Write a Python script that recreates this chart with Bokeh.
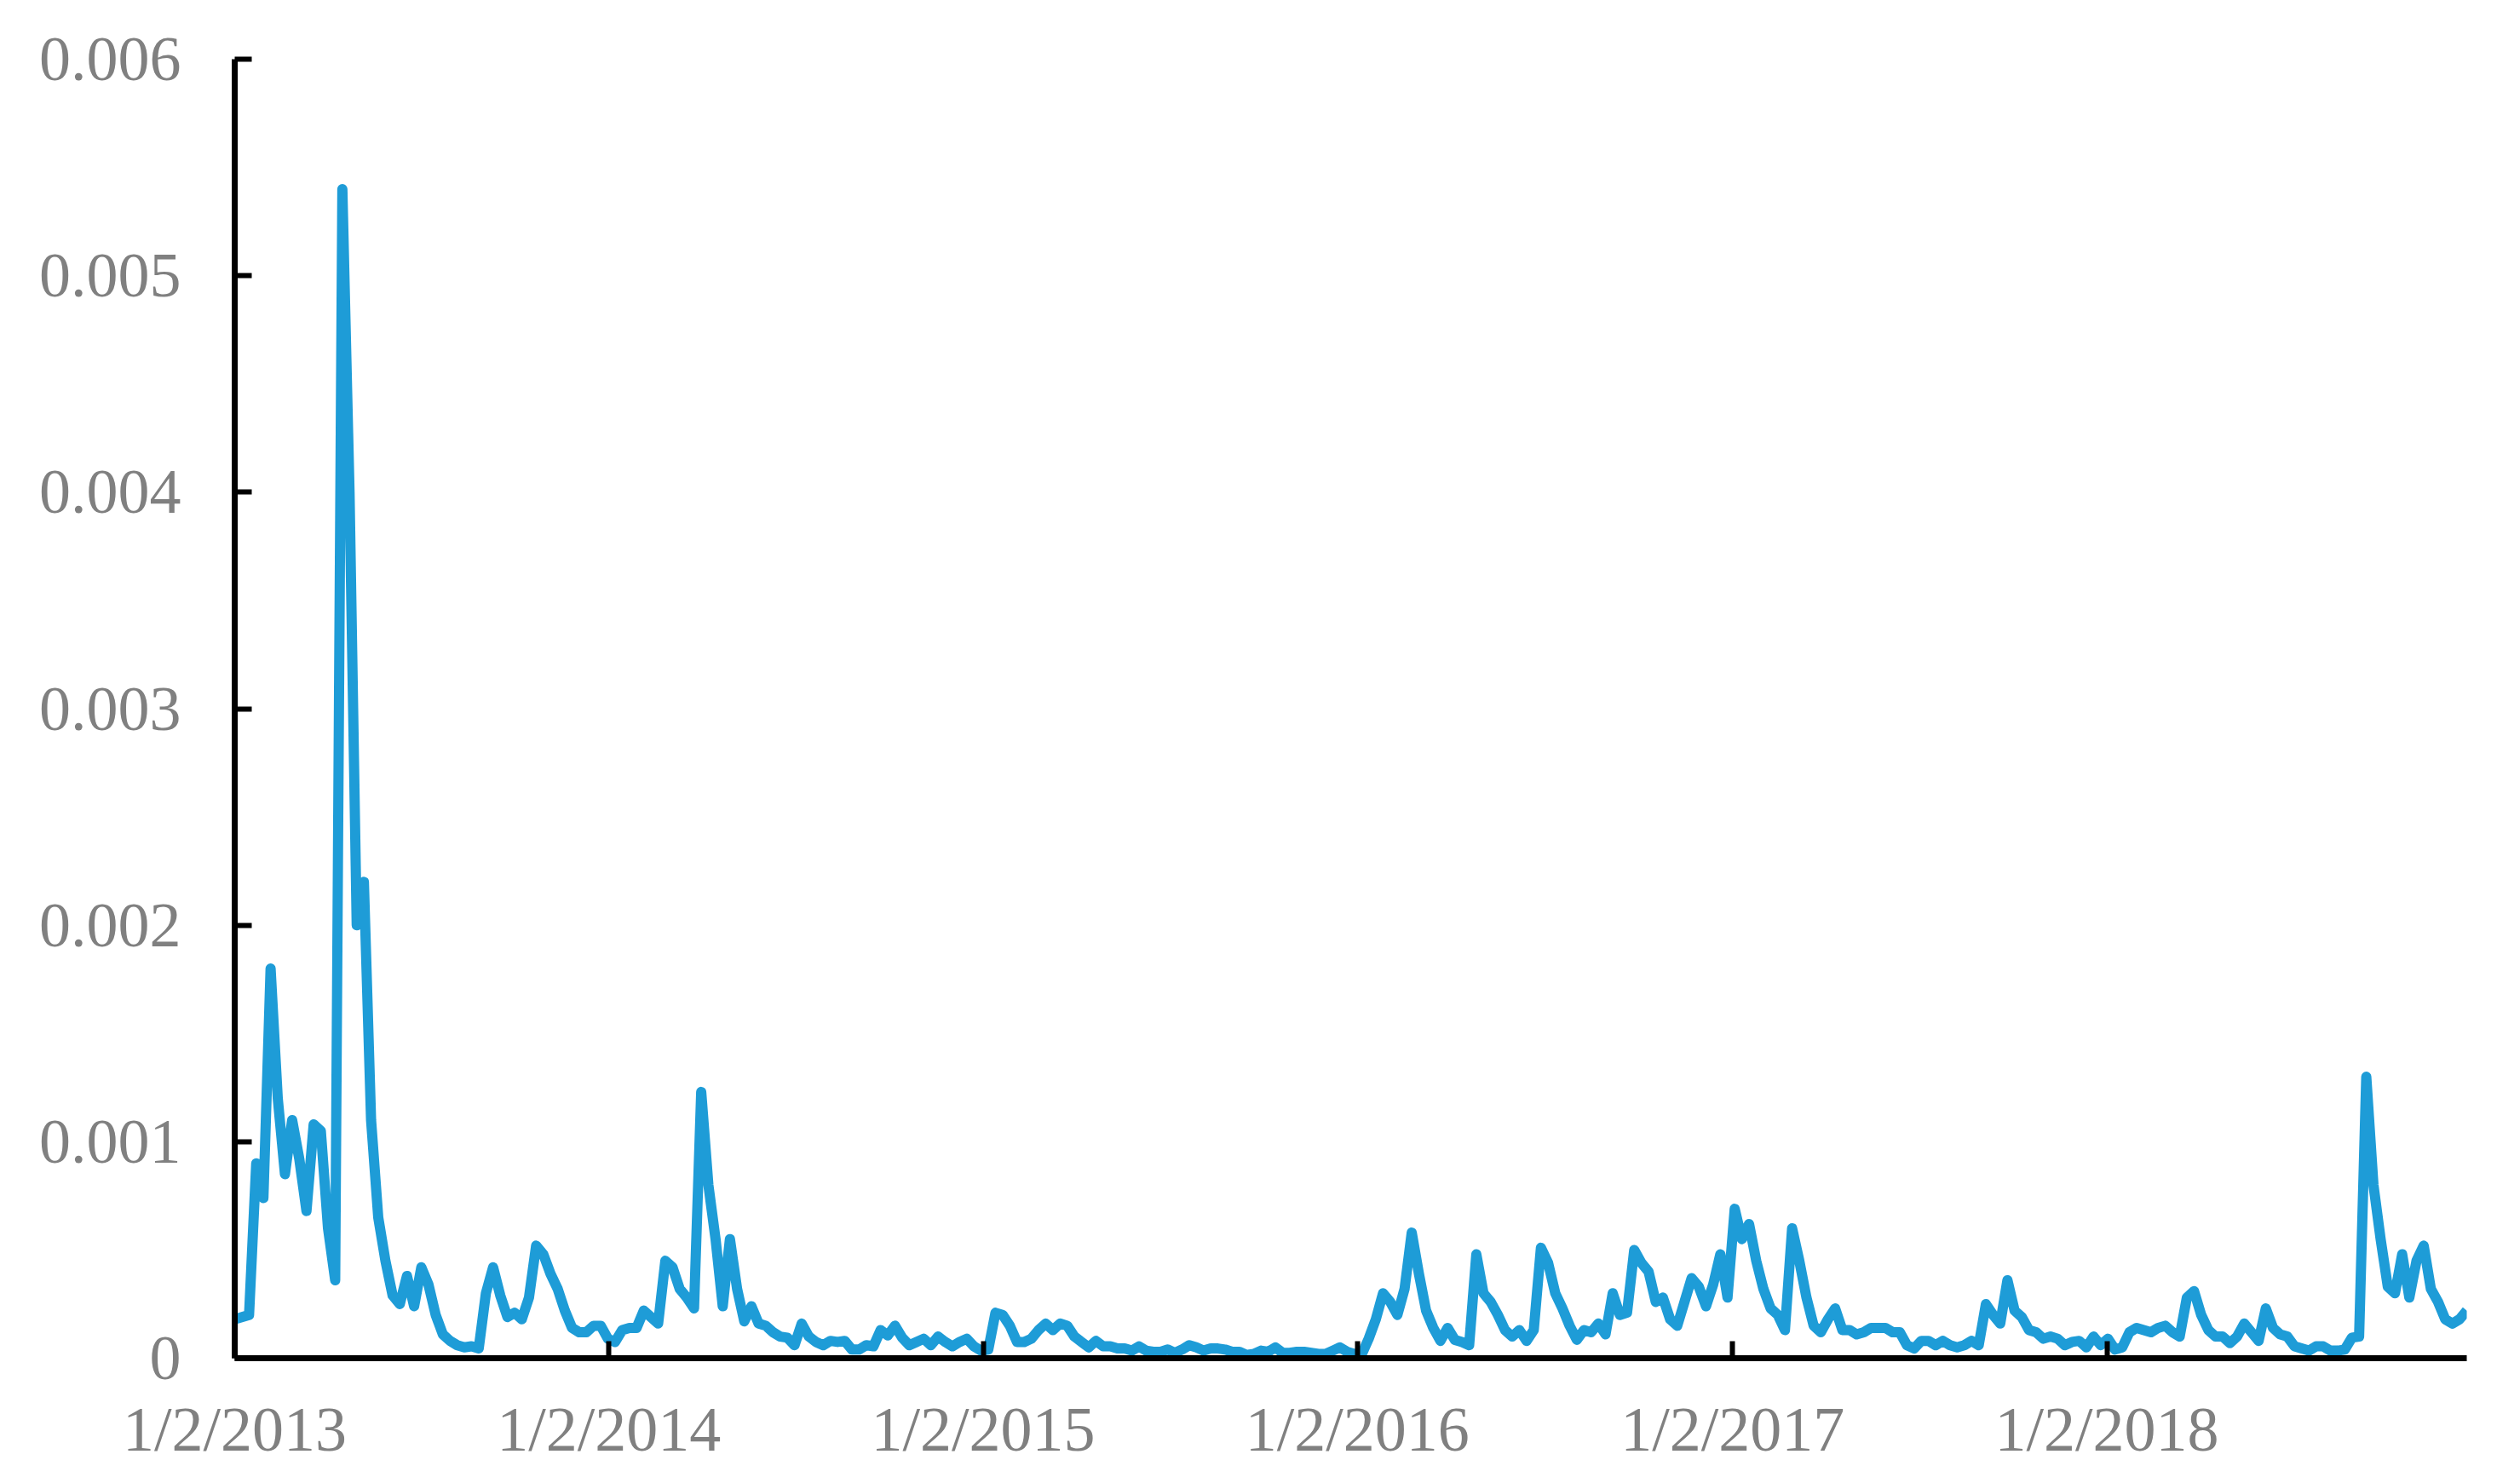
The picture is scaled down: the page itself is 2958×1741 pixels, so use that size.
import pandas as pd
from bokeh.plotting import figure
from bokeh.models import FixedTicker, Range1d
from bokeh.embed import file_html
from bokeh.resources import INLINE

# ---- data (weekly readings, values in units of 1e-4) ----
start_date = "2013-01-02"
vol_x1e4 = [
    1.8, 1.9, 2.0, 9.0, 7.4, 18.0, 12.0, 8.5, 11.0, 9.2,
    6.8, 10.8, 10.5, 6.0, 3.6, 54.0, 40.0, 20.0, 22.0, 11.0,
    6.5, 4.5, 2.9, 2.5, 3.8, 2.4, 4.2, 3.4, 2.0, 1.1,
    0.8, 0.6, 0.5, 0.55, 0.45, 3.0, 4.2, 2.9, 1.9, 2.1,
    1.8, 2.8, 5.2, 4.8, 3.9, 3.2, 2.2, 1.4, 1.2, 1.2,
    1.5, 1.5, 0.9, 0.75, 1.3, 1.4, 1.4, 2.2, 1.9, 1.6,
    4.5, 4.2, 3.2, 2.8, 2.3, 12.3, 8.0, 5.5, 2.4, 5.5,
    3.2, 1.7, 2.4, 1.6, 1.5, 1.2, 1.0, 0.95, 0.6, 1.6,
    1.0, 0.75, 0.6, 0.8, 0.75, 0.8, 0.4, 0.4, 0.6, 0.55,
    1.3, 1.05, 1.5, 0.95, 0.6, 0.75, 0.9, 0.6, 1.0, 0.75,
    0.55, 0.75, 0.9, 0.55, 0.35, 0.4, 2.1, 2.0, 1.5, 0.75,
    0.75, 0.9, 1.3, 1.6, 1.3, 1.6, 1.5, 1.0, 0.75, 0.5,
    0.8, 0.55, 0.55, 0.45, 0.45, 0.35, 0.55, 0.35, 0.3, 0.3,
    0.4, 0.25, 0.4, 0.6, 0.5, 0.35, 0.45, 0.45, 0.4, 0.3,
    0.3, 0.15, 0.2, 0.35, 0.3, 0.5, 0.25, 0.25, 0.3, 0.3,
    0.25, 0.2, 0.2, 0.35, 0.5, 0.3, 0.2, 0.15, 0.9, 1.8,
    3.0, 2.6, 2.0, 3.2, 5.8, 3.9, 2.2, 1.4, 0.8, 1.4,
    0.85, 0.75, 0.6, 4.8, 3.0, 2.6, 2.0, 1.3, 1.0, 1.3,
    0.8, 1.3, 5.1, 4.4, 3.0, 2.3, 1.5, 0.85, 1.3, 1.2,
    1.6, 1.1, 3.0, 2.0, 2.1, 5.0, 4.4, 4.0, 2.6, 2.8,
    1.8, 1.5, 2.6, 3.7, 3.3, 2.4, 3.4, 4.8, 2.8, 6.9,
    5.5, 6.2, 4.5, 3.2, 2.3, 2.0, 1.3, 6.0, 4.5, 2.8,
    1.5, 1.2, 1.8, 2.3, 1.3, 1.3, 1.1, 1.2, 1.4, 1.4,
    1.4, 1.2, 1.2, 0.6, 0.45, 0.8, 0.8, 0.6, 0.8, 0.6,
    0.5, 0.6, 0.8, 0.6, 2.5, 2.0, 1.6, 3.6, 2.2, 1.9,
    1.3, 1.2, 0.9, 1.0, 0.9, 0.6, 0.75, 0.8, 0.5, 1.0,
    0.6, 0.9, 0.4, 0.5, 1.2, 1.4, 1.3, 1.2, 1.4, 1.5,
    1.2, 1.0, 2.8, 3.1, 2.0, 1.3, 1.0, 1.0, 0.7, 1.0,
    1.6, 1.2, 0.8, 2.3, 1.4, 1.1, 1.0, 0.55, 0.45, 0.35,
    0.55, 0.55, 0.35, 0.35, 0.4, 0.95, 1.0, 13.0, 8.0, 5.5,
    3.3, 3.0, 4.8, 2.8, 4.5, 5.2, 3.2, 2.6, 1.8, 1.6,
    1.8, 2.2,
]
x_tick_dates = ["2013-01-02", "2014-01-02", "2015-01-02",
                "2016-01-02", "2017-01-02", "2018-01-02"]
x_tick_labels = ["1/2/2013", "1/2/2014", "1/2/2015",
                 "1/2/2016", "1/2/2017", "1/2/2018"]
y_ticks = [0, 0.001, 0.002, 0.003, 0.004, 0.005, 0.006]
y_tick_labels = ["0", "0.001", "0.002", "0.003", "0.004", "0.005", "0.006"]

dates = pd.date_range(start_date, periods=len(vol_x1e4), freq="7D")
vol = [v * 1e-4 for v in vol_x1e4]

# ---- figure ----
p = figure(
    x_axis_type="datetime",
    frame_width=2620, frame_height=1525,
    min_border_left=275, min_border_right=45,
    min_border_top=69, min_border_bottom=131,
    x_range=Range1d(dates[0], dates[-1]),
    y_range=Range1d(0, 0.006),
    output_backend="svg", toolbar_location=None,
)
p.outline_line_color = None
p.background_fill_color = "white"
p.border_fill_color = "white"
p.xgrid.visible = False
p.ygrid.visible = False

p.line(dates, vol, line_color="#1E9CD7", line_width=12, line_join="round")

x_ticks_ms = [float(pd.Timestamp(d).value // 10**6) for d in x_tick_dates]
p.xaxis.ticker = FixedTicker(ticks=x_ticks_ms)
p.xaxis.major_label_overrides = dict(zip(x_ticks_ms, x_tick_labels))
p.yaxis.ticker = FixedTicker(ticks=y_ticks)
p.yaxis.major_label_overrides = dict(zip(y_ticks, y_tick_labels))

for ax in (p.xaxis[0], p.yaxis[0]):
    ax.axis_line_color = "black"
    ax.axis_line_width = 7
    ax.major_tick_line_color = "black"
    ax.major_tick_line_width = 6
    ax.major_tick_in = 20
    ax.major_tick_out = 0
    ax.minor_tick_line_color = None
    ax.major_label_text_font = "Liberation Serif"
    ax.major_label_text_font_size = "74px"
    ax.major_label_text_color = "#808080"

p.yaxis.major_label_standoff = 63
p.xaxis.major_label_standoff = 42

open("out.html", "w").write(file_html(p, INLINE))
